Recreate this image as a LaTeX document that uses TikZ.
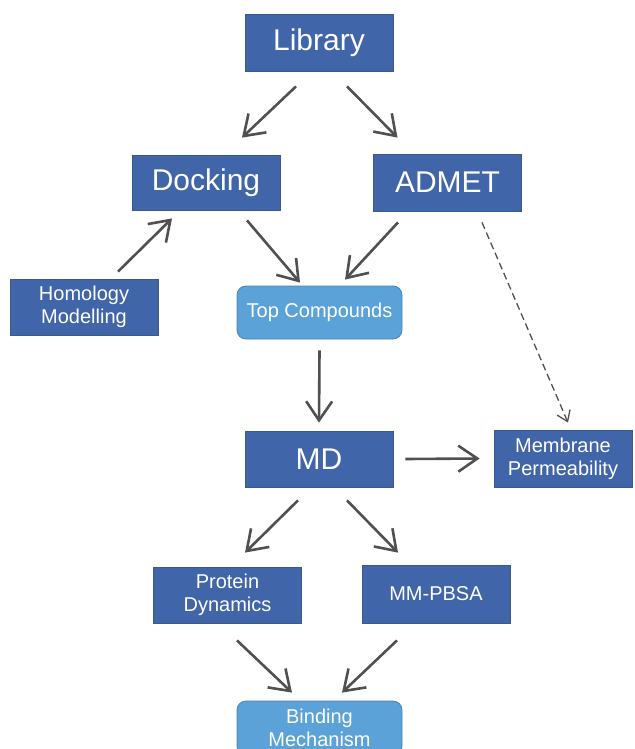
\documentclass[tikz,border=0pt]{standalone}
\usepackage{fontspec}
\setmainfont{Liberation Sans}
\usetikzlibrary{arrows.meta}
\definecolor{boxblue}{HTML}{4065A8}
\definecolor{boxedge}{HTML}{38598F}
\definecolor{lightblue}{HTML}{5AA2D8}
\definecolor{lightedge}{HTML}{4784B8}
\definecolor{arrgray}{HTML}{505050}

\begin{document}
\begin{tikzpicture}[x=1pt,y=-1pt,
    stage/.style={rectangle,fill=boxblue,draw=boxedge,line width=0.8pt,text=white,
                  inner sep=0pt,minimum width=148pt,minimum height=56pt,
                  font=\fontsize{30}{36}\selectfont},
    substage/.style={stage,align=center,font=\fontsize{20}{23}\selectfont},
    result/.style={substage,fill=lightblue,draw=lightedge,rounded corners=9pt,
                   minimum width=165pt,minimum height=53pt},
    arr/.style={-{Straight Barb[length=19pt,width=26pt]},line width=2.6pt,draw=arrgray},
    hint/.style={-{Straight Barb[length=10pt,width=14pt]},line width=1.3pt,draw=arrgray,
                 dash pattern=on 7pt off 4pt}]
  \useasboundingbox (0,0) rectangle (634,749);
  % screening stages
  \node[stage,minimum height=57pt] (lib)   at (319,42.5)  {Library};
  \node[stage,minimum height=55pt] (dock)  at (206,182.5) {Docking};
  \node[stage,minimum height=57pt] (admet) at (447.5,182.5) {ADMET};
  \node[substage] (homol) at (84,307) {Homology\\Modelling};
  \node[result] (top) at (319.5,312.5) {Top Compounds};
  \node[stage] (md) at (319,459) {MD};
  \node[substage,minimum width=138pt,minimum height=57pt] (memb) at (563,458.5)
       {Membrane\\Permeability};
  \node[substage] (prot) at (227.5,595) {Protein\\Dynamics};
  \node[substage,minimum height=58pt] (mmpbsa) at (436,594) {MM-PBSA};
  \node[result,minimum height=54pt] (bind) at (319.5,728) {Binding\\Mechanism};
  % arrows between stages
  \draw[arr] ([xshift=-23pt,yshift=-15pt]lib.south) -- ([xshift=36pt,yshift=17pt]dock.north);
  \draw[arr] ([xshift=28pt,yshift=-15pt]lib.south) -- ([xshift=-50pt,yshift=16pt]admet.north);
  \draw[arr] ([xshift=34pt,yshift=7pt]homol.north) -- ([xshift=-34pt,yshift=-8pt]dock.south);
  \draw[arr] ([xshift=41pt,yshift=-10pt]dock.south) -- ([xshift=-19.5pt,yshift=3pt]top.north);
  \draw[arr] ([xshift=-49.5pt,yshift=-11pt]admet.south) -- ([xshift=25.5pt,yshift=6pt]top.north);
  \draw[hint] ([xshift=34.5pt,yshift=-11pt]admet.south) -- ([xshift=5pt,yshift=7pt]memb.north);
  \draw[arr] ([yshift=-11pt]top.south) -- ([yshift=8pt]md.north);
  \draw[arr] ([xshift=12pt]md.east) -- ([xshift=-14pt]memb.west);
  \draw[arr] ([xshift=-21pt,yshift=-13pt]md.south) -- ([xshift=17.5pt,yshift=14pt]prot.north);
  \draw[arr] ([xshift=28pt,yshift=-13pt]md.south) -- ([xshift=-38pt,yshift=12pt]mmpbsa.north);
  \draw[arr] ([xshift=9.5pt,yshift=-17pt]prot.south) -- ([xshift=-27.5pt,yshift=8pt]bind.north);
  \draw[arr] ([xshift=-39pt,yshift=-17pt]mmpbsa.south) -- ([xshift=22.5pt,yshift=8pt]bind.north);
\end{tikzpicture}
\end{document}
